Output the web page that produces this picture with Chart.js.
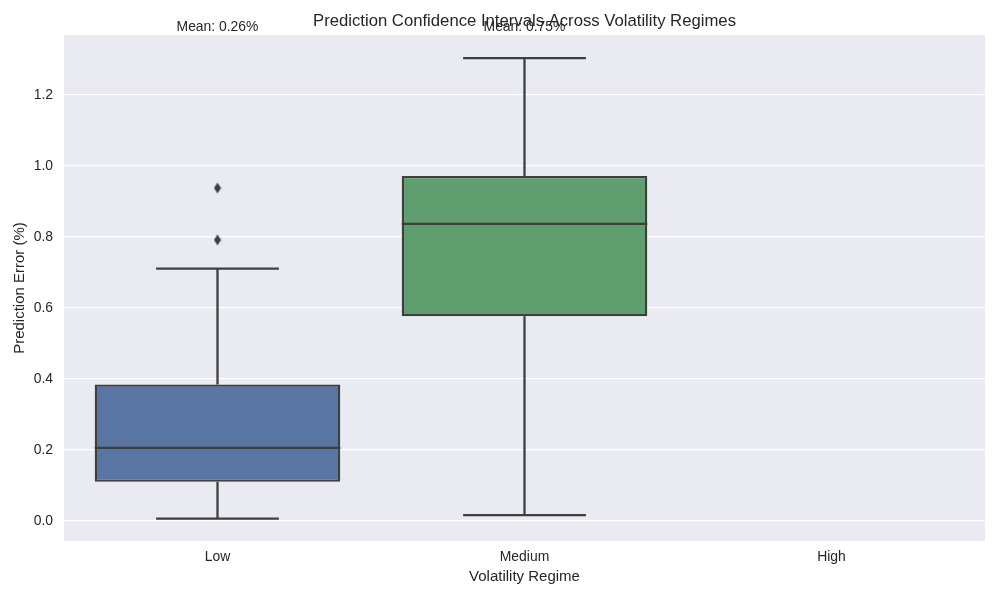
<!DOCTYPE html>
<html>
<head>
<meta charset="utf-8">
<script src="https://cdn.jsdelivr.net/npm/chart.js@4"></script>
<style>
html,body{margin:0;padding:0;background:#fff;}
#wrap{width:1000px;height:600px;position:relative;}
</style>
</head>
<body>
<div id="wrap"><canvas id="c"></canvas></div>
<script>
// ---- data ----
const categories = ['Low', 'Medium', 'High'];
const q1Values = [0.111, 0.577, null];
const q3Values = [0.385, 0.972, null];
const medianValues = [0.206, 0.837, null];
const whiskerLow = [0.007, 0.017, null];
const whiskerHigh = [0.711, 1.304, null];
const outlierValues = [[0.938, 0.792], [], []];
const meanValues = [0.26, 0.75, null];
const yTickValues = [0.0, 0.2, 0.4, 0.6, 0.8, 1.0, 1.2];
const chartTitle = 'Prediction Confidence Intervals Across Volatility Regimes';

const boxColors = ['#5875a4', '#5f9e6e', '#cc8963'];
const lineColor = '#3f3f3f';
const FONT = '"Liberation Sans", Arial, Helvetica, sans-serif';

// thin diamond marker
const diamond = document.createElement('canvas');
diamond.width = 8; diamond.height = 12;
(function(){
  const g = diamond.getContext('2d');
  g.fillStyle = lineColor;
  g.beginPath();
  g.moveTo(4, 0.5); g.lineTo(7.5, 6); g.lineTo(4, 11.5); g.lineTo(0.5, 6);
  g.closePath(); g.fill();
})();

const boxData = categories.map((c, i) => (q1Values[i] == null ? null : [q1Values[i], q3Values[i]]));
const outlierPoints = [];
categories.forEach((c, i) => outlierValues[i].forEach(v => outlierPoints.push({x: c, y: v})));

const bgPlugin = {
  id: 'bg',
  beforeDraw(chart) {
    const {ctx, chartArea: a} = chart;
    ctx.save();
    ctx.fillStyle = '#eaeaf2';
    ctx.fillRect(a.left, a.top, a.right - a.left, a.bottom - a.top);
    ctx.restore();
  }
};

const boxPlugin = {
  id: 'boxparts',
  afterDatasetsDraw(chart) {
    const {ctx} = chart;
    const xs = chart.scales.x, ys = chart.scales.y;
    const meta = chart.getDatasetMeta(1);
    ctx.save();
    ctx.strokeStyle = lineColor;
    ctx.lineWidth = 2.3;
    ctx.lineCap = 'butt';
    categories.forEach((c, i) => {
      if (q1Values[i] == null) return;
      const bar = meta.data[i];
      const w = bar.width;
      const cx = xs.getPixelForValue(i);
      const yq1 = ys.getPixelForValue(q1Values[i]);
      const yq3 = ys.getPixelForValue(q3Values[i]);
      const ymed = ys.getPixelForValue(medianValues[i]);
      const ylo = ys.getPixelForValue(whiskerLow[i]);
      const yhi = ys.getPixelForValue(whiskerHigh[i]);
      ctx.beginPath();
      ctx.moveTo(cx, yq3); ctx.lineTo(cx, yhi);
      ctx.moveTo(cx, yq1); ctx.lineTo(cx, ylo);
      ctx.moveTo(cx - w / 4, yhi); ctx.lineTo(cx + w / 4, yhi);
      ctx.moveTo(cx - w / 4, ylo); ctx.lineTo(cx + w / 4, ylo);
      ctx.moveTo(cx - w / 2, ymed); ctx.lineTo(cx + w / 2, ymed);
      ctx.stroke();
    });
    const a = chart.chartArea;
    ctx.fillStyle = '#262626';
    ctx.textAlign = 'center';
    ctx.textBaseline = 'middle';
    // title centered over plot area
    ctx.font = '16.7px ' + FONT;
    ctx.fillText(chartTitle, (a.left + a.right) / 2, 21);
    // mean labels
    ctx.font = '13.9px ' + FONT;
    categories.forEach((c, i) => {
      if (meanValues[i] == null) return;
      ctx.fillText('Mean: ' + meanValues[i].toFixed(2) + '%', xs.getPixelForValue(i), a.top - 8);
    });
    ctx.restore();
  }
};

new Chart(document.getElementById('c'), {
  type: 'bar',
  data: {
    labels: categories,
    datasets: [
      {
        type: 'line',
        label: 'outliers',
        data: outlierPoints,
        showLine: false,
        pointStyle: diamond,
        pointRadius: 5,
        pointHoverRadius: 5,
        order: 0
      },
      {
        label: 'box',
        data: boxData,
        backgroundColor: boxColors,
        borderColor: lineColor,
        borderWidth: 2.3,
        borderSkipped: false,
        barPercentage: 0.8,
        categoryPercentage: 1.0,
        grouped: false,
        order: 1
      }
    ]
  },
  options: {
    responsive: true,
    maintainAspectRatio: false,
    animation: false,
    events: [],
    layout: {padding: {left: 0, right: 15, top: 35, bottom: 0}},
    plugins: {
      legend: {display: false},
      tooltip: {enabled: false},
      title: {display: false}
    },
    scales: {
      x: {
        type: 'category',
        grid: {display: false, drawTicks: false},
        border: {display: false},
        ticks: {color: '#262626', font: {family: FONT, size: 13.9}, padding: 8},
        title: {display: true, text: 'Volatility Regime', color: '#262626', font: {family: FONT, size: 15}, padding: {top: 0, bottom: 14}},
        afterFit(s) { s.height = 59; s.paddingLeft = 0; s.paddingRight = 0; }
      },
      y: {
        type: 'linear',
        min: -0.056,
        max: 1.369,
        grid: {color: '#ffffff', lineWidth: 1.3, drawTicks: false},
        border: {display: false},
        afterBuildTicks(s) { s.ticks = yTickValues.map(v => ({value: v})); },
        ticks: {
          color: '#262626',
          font: {family: FONT, size: 13.9},
          padding: 11,
          callback: v => v.toFixed(1)
        },
        title: {display: true, text: 'Prediction Error (%)', color: '#262626', font: {family: FONT, size: 15}, padding: {top: 11, bottom: 0}},
        afterFit(s) { s.width = 64; s.paddingTop = 0; s.paddingBottom = 0; }
      }
    }
  },
  plugins: [bgPlugin, boxPlugin]
});
</script>
</body>
</html>
